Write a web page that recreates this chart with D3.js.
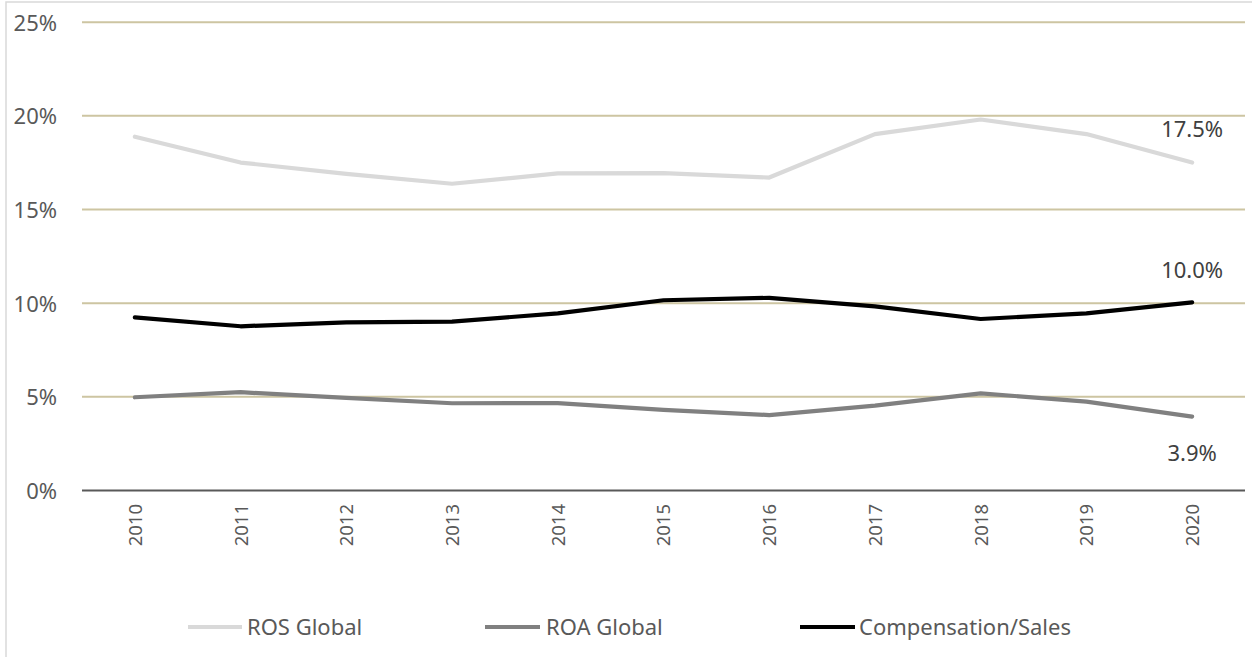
<!DOCTYPE html>
<html>
<head>
<meta charset="utf-8">
<script src="https://cdn.jsdelivr.net/npm/d3@7"></script>
<style>
  html, body { margin: 0; padding: 0; background: #ffffff; }
  svg { display: block; }
  text { font-family: "Noto Sans", "Open Sans", sans-serif; }
</style>
</head>
<body>
<svg id="chart" width="1252" height="657"></svg>
<script>
// ---- Data ----
const years = ["2010","2011","2012","2013","2014","2015","2016","2017","2018","2019","2020"];
const rosGlobal = [18.86, 17.48, 16.88, 16.35, 16.90, 16.92, 16.68, 19.00, 19.78, 19.00, 17.48];
const roaGlobal = [4.95, 5.22, 4.92, 4.63, 4.64, 4.28, 4.00, 4.50, 5.16, 4.72, 3.92];
const compSales = [9.22, 8.74, 8.95, 8.99, 9.43, 10.13, 10.26, 9.80, 9.13, 9.43, 10.02];
const yTicks = [0, 5, 10, 15, 20, 25];
const seriesNames = ["ROS Global", "ROA Global", "Compensation/Sales"];
const endLabels = ["17.5%", "3.9%", "10.0%"];

// ---- Layout ----
const svg = d3.select("#chart");
const plotLeft = 82, plotRight = 1245, plotTop = 21.7, plotBottom = 490;

const x = d3.scalePoint().domain(years).range([plotLeft, plotRight]).padding(0.5);
const y = d3.scaleLinear().domain([0, 25]).range([plotBottom, plotTop]);

// chart frame (extends beyond right & bottom edges)
svg.append("rect")
  .attr("x", 6).attr("y", 2).attr("width", 1300).attr("height", 700)
  .attr("fill", "none").attr("stroke", "#d9d9d9").attr("stroke-width", 1.5);

// gridlines
const yAxis = d3.axisLeft(y).tickValues(yTicks).tickSize(-(plotRight - plotLeft)).tickFormat(d => d + "%");
const gY = svg.append("g").attr("transform", `translate(${plotLeft},0)`).call(yAxis);
gY.select(".domain").remove();
gY.selectAll(".tick line")
  .attr("stroke", d => d === 0 ? "#595959" : "#cdc5a2")
  .attr("stroke-width", 2);
gY.selectAll(".tick text")
  .attr("x", -25)
  .attr("dy", "0.38em")
  .attr("fill", "#595959")
  .style("font-size", "22px")
  .style("font-family", "'Noto Sans', sans-serif");

// x axis labels
const xAxis = d3.axisBottom(x).tickSize(0);
const gX = svg.append("g").attr("transform", `translate(0,${plotBottom})`).call(xAxis);
gX.select(".domain").remove();
gX.selectAll(".tick text")
  .attr("transform", "translate(0,14) rotate(-90)")
  .attr("x", 0).attr("y", 0)
  .attr("dy", "0.35em")
  .attr("text-anchor", "end")
  .attr("fill", "#595959")
  .style("font-size", "18.5px")
  .style("font-family", "'Noto Sans', sans-serif");

// lines
const series = [
  { name: seriesNames[0], values: rosGlobal, color: "#d9d9d9" },
  { name: seriesNames[1], values: roaGlobal, color: "#808080" },
  { name: seriesNames[2], values: compSales, color: "#000000" }
];
const line = d3.line().x((d, i) => x(years[i])).y(d => y(d));

series.forEach(s => {
  svg.append("path")
    .datum(s.values)
    .attr("d", line)
    .attr("fill", "none")
    .attr("stroke", s.color)
    .attr("stroke-width", 4.2)
    .attr("stroke-linejoin", "round")
    .attr("stroke-linecap", "round");
});

// end data labels
const last = years.length - 1;
const labelOffsets = [-33, 37, -32];
series.forEach((s, k) => {
  svg.append("text")
    .attr("x", x(years[last]))
    .attr("y", y(s.values[last]) + labelOffsets[k])
    .attr("dy", "0.36em")
    .attr("text-anchor", "middle")
    .attr("fill", "#404040")
    .style("font-size", "22px")
    .text(endLabels[k]);
});

// legend
const legendItems = [
  { x0: 188, x1: 242, tx: 247 },
  { x0: 485, x1: 540, tx: 546 },
  { x0: 800, x1: 855, tx: 859 }
];
const legendY = 627;
series.forEach((s, k) => {
  const li = legendItems[k];
  svg.append("line")
    .attr("x1", li.x0).attr("x2", li.x1)
    .attr("y1", legendY).attr("y2", legendY)
    .attr("stroke", s.color).attr("stroke-width", 4.2);
  svg.append("text")
    .attr("x", li.tx).attr("y", legendY)
    .attr("dy", "0.36em")
    .attr("fill", "#595959")
    .style("font-size", "22px")
    .text(s.name);
});
</script>
</body>
</html>
